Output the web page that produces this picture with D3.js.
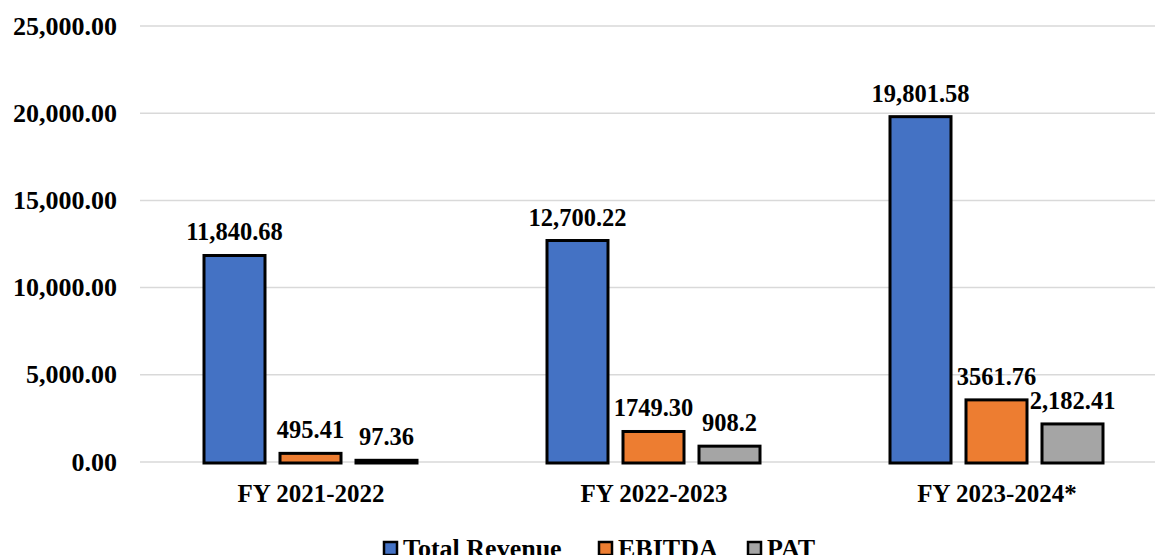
<!DOCTYPE html>
<html><head><meta charset="utf-8">
<script src="https://cdn.jsdelivr.net/npm/d3@7"></script>
<style>body{margin:0;background:#fff;}svg{display:block;}</style>
</head><body><svg id="c" width="1155" height="555"></svg>
<script>
const categories = ["FY 2021-2022", "FY 2022-2023", "FY 2023-2024*"];
const seriesNames = ["Total Revenue", "EBITDA", "PAT"];
const revenueVals = [11840.68, 12700.22, 19801.58];
const ebitdaVals = [495.41, 1749.30, 3561.76];
const patVals = [97.36, 908.2, 2182.41];
const revenueLabels = ["11,840.68", "12,700.22", "19,801.58"];
const ebitdaLabels = ["495.41", "1749.30", "3561.76"];
const patLabels = ["97.36", "908.2", "2,182.41"];
const yTicks = [0, 5000, 10000, 15000, 20000, 25000];
const colors = ["#4472c4", "#ed7d31", "#a5a5a5"];

const series = [revenueVals, ebitdaVals, patVals];
const labels = [revenueLabels, ebitdaLabels, patLabels];
const FONT = '"Liberation Serif"';

const svg = d3.select("#c");
const x0 = d3.scaleBand().domain(categories).range([139.5, 1168.5]).paddingInner(0).paddingOuter(0);
const y = d3.scaleLinear().domain([0, 25000]).range([462, 26]);

function txt(sel, size) {
  return sel.style("font-family", FONT).style("font-weight", "bold")
    .attr("font-size", size).attr("fill", "#000");
}

svg.append("g").selectAll("line").data(yTicks).join("line")
  .attr("x1", 140).attr("x2", 1155)
  .attr("y1", d => y(d)).attr("y2", d => y(d))
  .attr("stroke", "#d9d9d9").attr("stroke-width", 1.5);

txt(svg.append("g").selectAll("text").data(yTicks).join("text")
  .attr("x", 117).attr("y", d => y(d) + 8.5)
  .attr("text-anchor", "end"), 26)
  .text(d => d3.format(",.2f")(d));

const barW = 61, step = 76;
const x1 = d3.scaleBand().domain([0,1,2]).range([0, step*3]);
categories.forEach((cat, i) => {
  const cx = x0(cat) + x0.bandwidth()/2;
  const gx = cx - step*1.5 - 0.5;
  series.forEach((s, j) => {
    const bx = gx + x1(j) + (step - barW)/2;
    svg.append("rect")
      .attr("x", bx).attr("y", y(s[i]))
      .attr("width", barW).attr("height", y(0) - y(s[i]) + 1)
      .attr("fill", colors[j]).attr("stroke", "#000").attr("stroke-width", 3);
    txt(svg.append("text")
      .attr("x", bx + barW/2).attr("y", y(s[i]) - 15)
      .attr("text-anchor", "middle"), 24.5)
      .text(labels[j][i]);
  });
  txt(svg.append("text")
    .attr("x", cx).attr("y", 502)
    .attr("text-anchor", "middle"), 25)
    .text(cat);
});

const legendX = [384, 599, 748];
seriesNames.forEach((n, j) => {
  const lx = legendX[j];
  svg.append("rect").attr("x", lx).attr("y", 542).attr("width", 13).attr("height", 13)
    .attr("fill", colors[j]).attr("stroke", "#000").attr("stroke-width", 2.5);
  txt(svg.append("text").attr("x", lx + 19).attr("y", 557), 26).text(n);
});
</script>
</body></html>
